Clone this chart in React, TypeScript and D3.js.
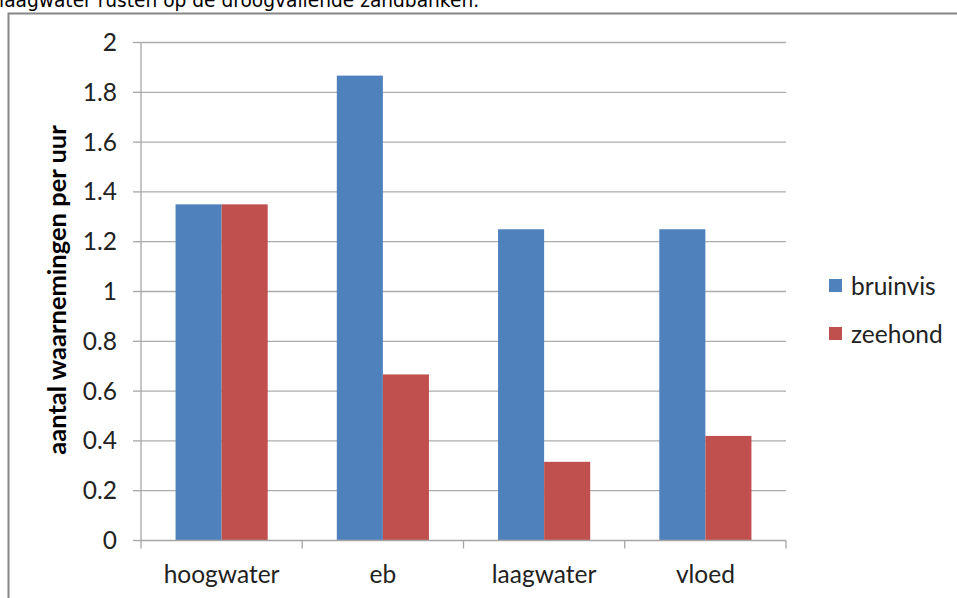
import React from 'react';
import * as d3 from 'd3';

// tidal phase categories and sightings per hour
const categories = ['hoogwater', 'eb', 'laagwater', 'vloed'];
const seriesNames = ['bruinvis', 'zeehond'];
const bruinvis = [1.35, 1.867, 1.25, 1.25];
const zeehond = [1.35, 0.667, 0.316, 0.42];
const yTicks = [0, 0.2, 0.4, 0.6, 0.8, 1, 1.2, 1.4, 1.6, 1.8, 2];
const colors = ['#4F81BD', '#C0504D'];

const W = 957;
const H = 598;
const plot = { left: 141, right: 786, top: 42.5, bottom: 540.5 };
const FONT = 'Lato, "Open Sans", sans-serif';
const FS = 24.5;

export default function App() {
  const values = [bruinvis, zeehond];

  const x = d3.scaleBand<string>()
    .domain(categories)
    .range([plot.left, plot.right])
    .paddingInner(0)
    .paddingOuter(0);

  const xs = d3.scaleBand<string>()
    .domain(seriesNames)
    .range([0, x.bandwidth()])
    .paddingInner(0)
    .paddingOuter(0.75);

  const y = d3.scaleLinear().domain([0, 2]).range([plot.bottom, plot.top]);

  const boundaries = [...categories.map(c => x(c) as number), plot.right];

  return (
    <svg
      width={W}
      height={H}
      style={{ position: 'fixed', left: 0, top: 0, background: '#fff' }}
    >
      {/* cut-off caption above the chart */}
      <text x={-1} y={7} fontFamily='"DejaVu Sans", Verdana, sans-serif' fontSize={18.6} fill="#000">
        laagwater rusten op de droogvallende zandbanken.
      </text>

      {/* chart frame */}
      <rect x={8.5} y={13.5} width={W + 10} height={H + 10} fill="none" stroke="#868686" strokeWidth={2} />

      {/* gridlines */}
      {yTicks.filter(t => t > 0).map(t => (
        <line key={t} x1={plot.left} x2={plot.right} y1={y(t)} y2={y(t)} stroke="#ADADAD" strokeWidth={1.3} />
      ))}

      {/* bars */}
      {categories.map((c, i) => (
        <g key={c} transform={`translate(${x(c)},0)`}>
          {seriesNames.map((s, j) => (
            <rect
              key={s}
              x={xs(s)}
              y={y(values[j][i])}
              width={xs.bandwidth()}
              height={y(0) - y(values[j][i])}
              fill={colors[j]}
            />
          ))}
        </g>
      ))}

      {/* y axis */}
      <line x1={plot.left} x2={plot.left} y1={plot.top} y2={plot.bottom} stroke="#A6A6A6" strokeWidth={1.3} />
      {yTicks.map(t => (
        <g key={t}>
          <line x1={plot.left - 8} x2={plot.left} y1={y(t)} y2={y(t)} stroke="#A6A6A6" strokeWidth={1.3} />
          <text x={117} y={y(t)} dy="0.35em" textAnchor="end" fontFamily={FONT} fontSize={FS} fill="#222">
            {d3.format('~g')(t)}
          </text>
        </g>
      ))}

      {/* x axis */}
      <line x1={plot.left} x2={plot.right} y1={plot.bottom} y2={plot.bottom} stroke="#A6A6A6" strokeWidth={1.3} />
      {boundaries.map(b => (
        <line key={b} x1={b} x2={b} y1={plot.bottom} y2={plot.bottom + 8} stroke="#A6A6A6" strokeWidth={1.3} />
      ))}
      {categories.map(c => (
        <text
          key={c}
          x={(x(c) as number) + x.bandwidth() / 2}
          y={583}
          textAnchor="middle"
          fontFamily={FONT}
          fontSize={FS}
          fill="#222"
        >
          {c}
        </text>
      ))}

      {/* axis title */}
      <text
        transform="translate(66,290) rotate(-90)"
        textAnchor="middle"
        fontFamily={FONT}
        fontWeight="bold"
        fontSize={25.5}
        fill="#000"
      >
        aantal waarnemingen per uur
      </text>

      {/* legend */}
      {seriesNames.map((s, j) => (
        <g key={s} transform={`translate(829,${286 + j * 48})`}>
          <rect x={0} y={-7} width={13} height={13} fill={colors[j]} />
          <text x={22} y={0} dy="0.35em" fontFamily={FONT} fontSize={FS} fill="#222">
            {s}
          </text>
        </g>
      ))}
    </svg>
  );
}
